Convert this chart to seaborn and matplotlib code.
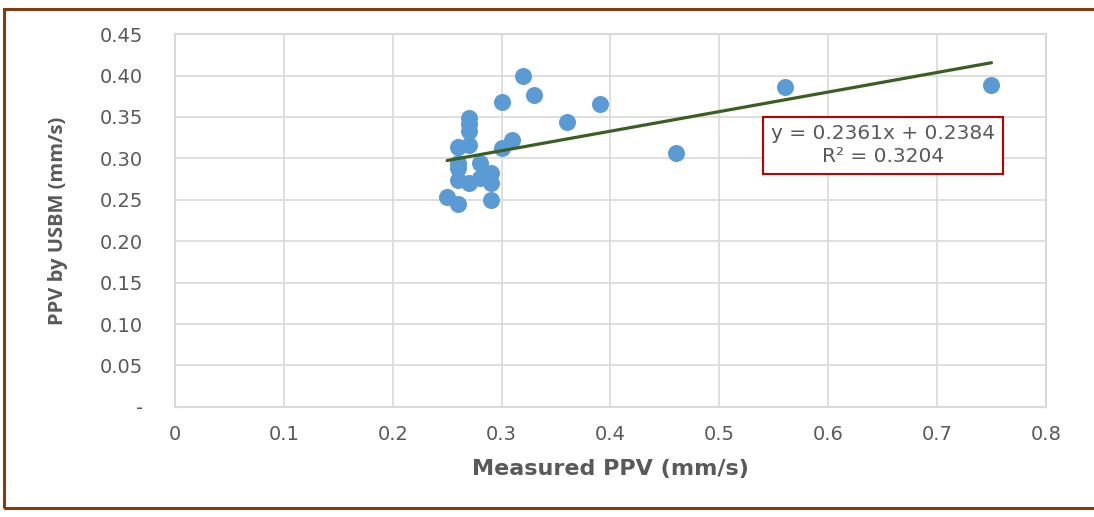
import numpy as np
import pandas as pd
import matplotlib.pyplot as plt
import seaborn as sns
from matplotlib.patches import Rectangle
from matplotlib.ticker import FuncFormatter

# measured vs predicted PPV
measured_ppv = [0.25, 0.26, 0.26, 0.26, 0.26, 0.26, 0.27, 0.27, 0.27, 0.27,
                0.27, 0.28, 0.28, 0.29, 0.29, 0.29, 0.30, 0.31, 0.30, 0.32,
                0.33, 0.36, 0.39, 0.46, 0.56, 0.75]
usbm_ppv = [0.253, 0.245, 0.274, 0.288, 0.294, 0.314, 0.316, 0.333, 0.341, 0.349,
            0.270, 0.294, 0.276, 0.282, 0.270, 0.250, 0.312, 0.322, 0.368, 0.400,
            0.377, 0.344, 0.366, 0.306, 0.386, 0.389]

# linear trendline reported on the chart
slope = 0.2361
intercept = 0.2384
r_squared = 0.3204

x_ticks = [0, 0.1, 0.2, 0.3, 0.4, 0.5, 0.6, 0.7, 0.8]
y_ticks = [0, 0.05, 0.10, 0.15, 0.20, 0.25, 0.30, 0.35, 0.40, 0.45]

df = pd.DataFrame({'measured': measured_ppv, 'usbm': usbm_ppv})
xs = np.array([min(measured_ppv), max(measured_ppv)])
trend = pd.DataFrame({'measured': xs, 'usbm': slope * xs + intercept})

sns.set_theme(style='white')
plt.rcParams['font.family'] = ['DejaVu Sans']

grey_text = '#595959'
grid_col = '#D9D9D9'

fig = plt.figure(figsize=(10.94, 5.17), dpi=100)
ax = fig.add_axes([0.160, 0.213, 0.796, 0.721])

sns.scatterplot(data=df, x='measured', y='usbm', ax=ax, color='#5B9BD5',
                s=150, linewidth=0, alpha=1, zorder=3)
sns.lineplot(data=trend, x='measured', y='usbm', ax=ax, color='#3B5E23',
             linewidth=2.3, zorder=4)

ax.set_xlim(0, 0.8)
ax.set_ylim(0, 0.45)
ax.set_xticks(x_ticks)
ax.set_yticks(y_ticks)
ax.xaxis.set_major_formatter(FuncFormatter(lambda v, p: '0' if v == 0 else f'{v:.1f}'))
ax.yaxis.set_major_formatter(FuncFormatter(lambda v, p: '-' if v == 0 else f'{v:.2f}'))
ax.tick_params(axis='both', length=0, labelsize=14, labelcolor=grey_text)
ax.tick_params(axis='x', pad=13)
ax.tick_params(axis='y', pad=23)

ax.grid(True, color=grid_col, linewidth=1.2)
ax.set_axisbelow(True)
for sp in ax.spines.values():
    sp.set_color(grid_col)
    sp.set_linewidth(1.5)

ax.set_xlabel('Measured PPV (mm/s)', fontsize=16, fontweight='bold',
              color=grey_text, labelpad=11)
ax.set_ylabel('PPV by USBM (mm/s)', fontsize=14.5, fontweight='bold',
              color=grey_text, labelpad=23, family=['Open Sans', 'DejaVu Sans'])

ax.text(0.813, 0.702, f'y = {slope}x + {intercept}\nR² = {r_squared}',
        transform=ax.transAxes, ha='center', va='center', fontsize=14.5,
        color=grey_text, linespacing=1.25, zorder=5,
        bbox=dict(boxstyle='square,pad=0.38', facecolor='white',
                  edgecolor='#C00000', linewidth=1.5))

# brown frame around the whole chart
fig.patches.append(Rectangle((4 / 1094, 9 / 517), 1.1, 499 / 517,
                             transform=fig.transFigure, fill=False,
                             edgecolor='#843C0C', linewidth=2.2))

fig.savefig('out.png', dpi=100)
